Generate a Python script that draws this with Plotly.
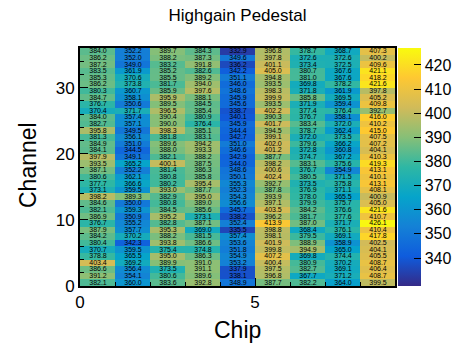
import plotly.graph_objects as go

# Pedestal values per chip, listed from channel 35 (top) down to channel 0 (bottom)
chip0 = [384.0, 386.2, 387.2, 383.5, 385.3, 386.2, 380.3, 384.7, 376.7, 370.4, 384.0, 382.7, 395.8, 381.3, 384.9, 384.1, 397.9, 393.5, 387.1, 380.6, 377.7, 373.1, 398.2, 384.6, 382.1, 386.9, 376.7, 387.9, 384.2, 380.4, 370.7, 378.8, 403.4, 386.6, 391.2, 382.1]
chip1 = [352.2, 352.0, 349.0, 361.9, 370.6, 373.8, 360.7, 358.1, 350.6, 371.7, 357.4, 357.1, 349.5, 356.1, 351.0, 344.5, 349.1, 365.2, 352.2, 362.1, 366.6, 359.5, 389.3, 350.0, 359.3, 350.9, 355.2, 357.7, 370.2, 342.3, 359.5, 365.5, 369.2, 356.4, 354.1, 360.0]
chip2 = [389.7, 388.2, 383.2, 385.2, 385.5, 381.7, 385.9, 395.9, 389.5, 396.5, 390.4, 390.0, 398.3, 381.8, 389.6, 388.0, 382.1, 400.1, 381.4, 380.8, 380.2, 393.0, 382.9, 380.8, 384.5, 395.2, 382.8, 395.3, 388.2, 393.8, 375.4, 395.0, 389.9, 373.5, 380.6, 383.6]
chip3 = [384.3, 387.3, 391.8, 382.6, 389.2, 394.0, 397.6, 388.1, 384.5, 385.4, 380.9, 376.4, 385.1, 383.1, 394.2, 393.3, 388.2, 387.5, 386.3, 385.8, 395.4, 387.7, 395.0, 389.0, 385.6, 373.1, 387.1, 369.0, 381.5, 386.6, 374.8, 386.3, 391.0, 391.1, 389.6, 392.8]
chip4 = [332.9, 349.6, 336.2, 342.2, 351.1, 346.0, 348.6, 345.9, 345.6, 338.7, 340.1, 345.9, 344.4, 342.7, 351.0, 346.6, 342.9, 344.0, 348.6, 350.1, 355.3, 352.3, 354.3, 356.6, 345.7, 338.2, 352.4, 335.5, 357.4, 353.6, 351.8, 354.9, 353.2, 337.9, 338.1, 348.9]
chip5 = [396.8, 397.8, 401.1, 405.0, 394.8, 393.5, 398.3, 399.9, 393.5, 402.2, 390.3, 401.7, 394.5, 399.1, 402.0, 401.2, 387.7, 398.2, 400.6, 402.4, 392.7, 387.8, 393.9, 397.1, 403.5, 396.2, 413.9, 398.8, 398.1, 401.9, 399.8, 407.2, 400.4, 397.5, 396.8, 387.7]
chip6 = [378.7, 372.6, 373.4, 380.7, 381.0, 369.8, 371.8, 385.8, 371.9, 377.4, 376.7, 383.4, 378.7, 372.0, 379.6, 372.8, 374.7, 383.1, 376.7, 380.5, 373.5, 376.9, 378.0, 379.9, 384.2, 381.7, 387.0, 368.4, 379.5, 388.9, 394.9, 369.8, 380.9, 382.7, 367.7, 382.2]
chip7 = [368.7, 372.6, 372.5, 367.6, 367.6, 378.2, 361.9, 369.5, 359.4, 376.4, 358.1, 372.0, 362.4, 373.5, 366.2, 360.8, 367.2, 375.6, 354.9, 371.5, 375.8, 371.1, 365.5, 375.7, 376.6, 377.6, 371.7, 376.1, 369.1, 358.9, 365.0, 374.4, 370.2, 369.1, 371.2, 364.0]
chip8 = [407.3, 400.2, 409.6, 421.1, 418.2, 421.6, 397.8, 405.2, 409.8, 392.7, 416.0, 410.2, 415.0, 407.5, 407.2, 404.1, 410.3, 419.3, 413.1, 410.1, 413.1, 408.1, 400.9, 405.0, 421.6, 410.7, 426.1, 410.4, 417.8, 402.5, 404.1, 405.5, 408.7, 406.4, 408.7, 399.5]

chips = [chip0, chip1, chip2, chip3, chip4, chip5, chip6, chip7, chip8]
chip_centers = [i + 0.5 for i in range(9)]
channel_centers = [j + 0.5 for j in range(36)]
colorbar_ticks = [340, 350, 360, 370, 380, 390, 400, 410, 420]

# z[channel][chip], channel 0 first
cols_bottom_up = [c[::-1] for c in chips]
z = [[cols_bottom_up[i][j] for i in range(9)] for j in range(36)]

# ROOT kBird palette
stops = [0.0, 0.125, 0.25, 0.375, 0.5, 0.625, 0.75, 0.875, 1.0]
red = [0.2082, 0.0592, 0.0780, 0.0232, 0.1802, 0.5301, 0.8186, 0.9956, 0.9764]
green = [0.1664, 0.3599, 0.5041, 0.6419, 0.7178, 0.7492, 0.7328, 0.7862, 0.9832]
blue = [0.5293, 0.8684, 0.8385, 0.7914, 0.6425, 0.4662, 0.3499, 0.1968, 0.0539]
colorscale = [[s, f"rgb({round(r*255)},{round(g*255)},{round(b*255)})"]
              for s, r, g, b in zip(stops, red, green, blue)]

FONT = "Liberation Sans, Arial, sans-serif"

fig = go.Figure(go.Heatmap(
    x=chip_centers, y=channel_centers, z=z,
    colorscale=colorscale, zmin=328.4, zmax=427.0,
    texttemplate="%{z:.1f}",
    textfont=dict(family=FONT, size=7, color="black"),
    colorbar=dict(
        x=1.01, xanchor="left", xref="paper",
        y=0.5, yanchor="middle", len=1.0, lenmode="fraction",
        thickness=23, outlinewidth=0, xpad=0, ypad=0,
        tickvals=colorbar_ticks, ticks="inside", ticklen=7,
        tickcolor="black", tickwidth=1,
        tickfont=dict(family=FONT, size=16, color="black"),
    ),
    hoverongaps=False,
))

fig.update_layout(
    width=461, height=343,
    margin=dict(l=80, r=66, t=48, b=57, autoexpand=False),
    paper_bgcolor="white", plot_bgcolor="white",
    title=dict(text="Highgain Pedestal", x=0.5, xref="paper",
               y=1 - 15/343, yref="container", xanchor="center", yanchor="middle",
               font=dict(family=FONT, size=17, color="black")),
    xaxis=dict(range=[0, 9], tickvals=[0, 5], ticks="inside", ticklen=8,
               tickcolor="black", showgrid=False, zeroline=False,
               showline=True, linecolor="black", linewidth=2, mirror=True,
               minor=dict(dtick=1, tick0=0, ticks="inside", ticklen=4, tickcolor="black"),
               tickfont=dict(family=FONT, size=17, color="black")),
    yaxis=dict(range=[0, 36], tickvals=[0, 10, 20, 30], ticks="inside", ticklen=8,
               tickcolor="black", showgrid=False, zeroline=False,
               showline=True, linecolor="black", linewidth=2, mirror=True,
               minor=dict(dtick=2, tick0=0, ticks="inside", ticklen=4, tickcolor="black"),
               tickfont=dict(family=FONT, size=17, color="black")),
    annotations=[
        dict(text="Chip", x=0.5, xref="paper", y=-44/238, yref="paper",
             xanchor="center", yanchor="middle", showarrow=False,
             font=dict(family=FONT, size=23, color="black")),
        dict(text="Channel", x=-52/315, xref="paper", y=(286-165)/238, yref="paper",
             xanchor="center", yanchor="middle", showarrow=False, textangle=-90,
             font=dict(family=FONT, size=23, color="black")),
    ],
)

fig.write_html("out.html")
